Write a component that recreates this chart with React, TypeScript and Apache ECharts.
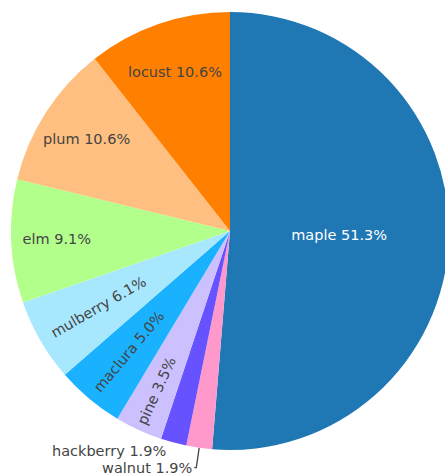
import React, { useEffect, useRef } from "react";
import * as echarts from "echarts";

// Data (clockwise from 12 o'clock)
const categories = ["maple", "walnut", "hackberry", "pine", "maclura", "mulberry", "elm", "plum", "locust"];
const percents = [51.3, 1.9, 1.9, 3.5, 5.0, 6.1, 9.1, 10.6, 10.6];
const sliceColors = ["#1f77b4", "#ff99cc", "#6652ff", "#ccc0ff", "#1ab2ff", "#a8e8ff", "#b3ff8c", "#ffbf80", "#ff8000"];

// Label styling config
const insideLabelDist: Record<string, number> = {
  maple: 0.485,
  locust: 0.755,
  plum: 0.765,
  elm: 0.778,
  mulberry: 0.68,
  maclura: 0.705,
  pine: 0.79,
};
const radialLabels = ["mulberry", "maclura", "pine"];
const outsideLabels: Record<string, { len: number; len2: number; dist: number; line: boolean }> = {
  hackberry: { len: 9, len2: 0, dist: 5, line: false },
  walnut: { len: 20, len2: 2, dist: 2, line: true },
};

const CX = 230;
const CY = 231;
const R = 219;
const FONT = "DejaVu Sans";
const FS = 14.5;

const fmt = (name: string, v: number) => `${name} ${v.toFixed(1)}%`;

export default function App() {
  const ref = useRef<HTMLDivElement>(null);
  useEffect(() => {
    if (!ref.current) return;
    const chart = echarts.init(ref.current, undefined, { renderer: "svg" });

    const mainData = categories.map((name, i) => {
      const o = outsideLabels[name];
      return {
        name,
        value: percents[i],
        itemStyle: { color: sliceColors[i] },
        label: o
          ? {
              show: true,
              position: "outside",
              distanceToLabelLine: o.dist,
              formatter: fmt(name, percents[i]),
            }
          : { show: false },
        labelLine: o
          ? { show: o.line, length: o.len, length2: o.len2, lineStyle: { color: "#444", width: 1.3 } }
          : { show: false },
      };
    });

    const mainSeries = {
      type: "pie",
      center: [CX, CY],
      radius: [0, R],
      startAngle: 90,
      clockwise: true,
      avoidLabelOverlap: false,
      silent: true,
      label: {
        fontFamily: FONT,
        fontSize: FS,
        color: "#444",
      },
      emphasis: { disabled: true },
      data: mainData,
    };

    const labelSeries = Object.keys(insideLabelDist).map((target) => ({
      type: "pie",
      center: [CX, CY],
      radius: [0, 2 * insideLabelDist[target] * R],
      startAngle: 90,
      clockwise: true,
      avoidLabelOverlap: false,
      silent: true,
      emphasis: { disabled: true },
      itemStyle: { color: "rgba(0,0,0,0)" },
      labelLine: { show: false },
      data: categories.map((name, i) => ({
        name,
        value: percents[i],
        label:
          name === target
            ? {
                show: true,
                position: "inside",
                rotate: radialLabels.includes(name) ? "radial" : 0,
                fontFamily: FONT,
                fontSize: FS,
                color: name === "maple" ? "#ffffff" : "#444",
                formatter: fmt(name, percents[i]),
              }
            : { show: false },
      })),
    }));

    chart.setOption({
      animation: false,
      series: [mainSeries, ...labelSeries],
    } as any);

    return () => chart.dispose();
  }, []);

  return (
    <div
      ref={ref}
      style={{ position: "absolute", left: 0, top: 0, width: 445, height: 476, background: "#fff" }}
    />
  );
}
